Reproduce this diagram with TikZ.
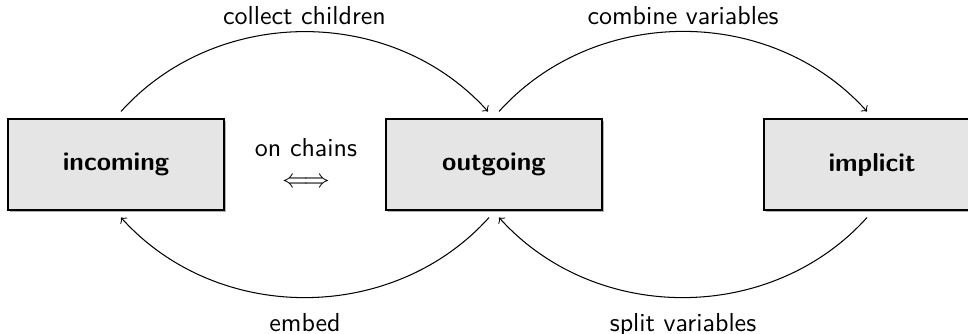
\documentclass[tikz,border=0pt]{standalone}
\usetikzlibrary{calc,shadows}
\begin{document}
\begin{tikzpicture}[x=0.38462pt, y=0.38462pt, font=\sffamily,
  stage/.style={draw=black, fill=gray!20, minimum width=83.08pt,
    minimum height=35pt, inner sep=0pt, font=\sffamily\bfseries,
    drop shadow={shadow xshift=0.6pt, shadow yshift=-0.6pt, opacity=0.6}},
  flow/.style={->, bend left=48},
  toplabel/.style={midway, above, inner sep=2.3pt},
  botlabel/.style={midway, below, inner sep=5.8pt}]
\useasboundingbox (0,0) rectangle (968,333);
\clip (0,0) rectangle (968,333);

% the three forms
\node[stage] (incoming) at (116,168.5) {incoming};
\node[stage] (outgoing) at (494,168.5) {outgoing};
\node[stage] (implicit) at (872,168.5) {implicit};

% equivalence note between the first two forms
\node[align=center] (chains) at (306,170) {on chains\\$\Longleftrightarrow$};

% end points of the transformations, just off the box edges
\coordinate (inT)  at ($(incoming.north)+(5,7)$);
\coordinate (inB)  at ($(incoming.south)+(5,-7)$);
\coordinate (outTL) at ($(outgoing.north)+(-6,7)$);
\coordinate (outTR) at ($(outgoing.north)+(5,7)$);
\coordinate (outBL) at ($(outgoing.south)+(-5,-7)$);
\coordinate (outBR) at ($(outgoing.south)+(5,-7)$);
\coordinate (impT) at ($(implicit.north)+(-5,7)$);
\coordinate (impB) at ($(implicit.south)+(-5,-7)$);

% transformations
\draw[flow] (inT) to node[toplabel] (collect) {collect children} (outTL);
\draw[flow] (outTR) to node[toplabel] (combine) {combine variables} (impT);
\draw[flow] (outBL) to node[botlabel] (embed) {embed} (inB);
\draw[flow] (impB) to node[botlabel] (split) {split variables} (outBR);
\end{tikzpicture}
\end{document}
